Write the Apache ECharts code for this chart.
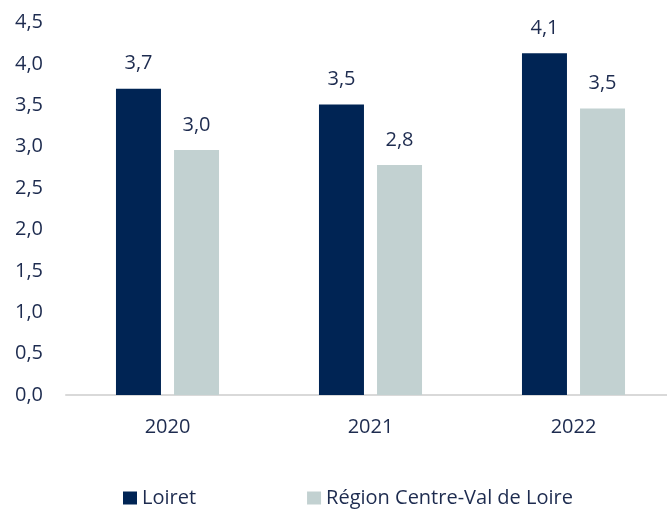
<!DOCTYPE html>
<html><head><meta charset="utf-8">
<script src="https://cdn.jsdelivr.net/npm/echarts@6/dist/echarts.min.js"></script>
<style>html,body{margin:0;padding:0;background:#fff;overflow:hidden;width:667px;height:509px}#c{width:675px;height:509px}</style>
</head><body><div id="c"></div>
<script>
const categories = ['2020', '2021', '2022'];
const loiret = [3.70, 3.51, 4.13];
const region = [2.96, 2.78, 3.46];
const seriesNames = ['Loiret', 'Région Centre-Val de Loire'];
const yTicks = { min: 0, max: 4.5, interval: 0.5 };

const txt = '#1d2b4f';
const font = '"Open Sans", sans-serif';
const fmt = v => v.toFixed(1).replace('.', ',');

const chart = echarts.init(document.getElementById('c'), null, { renderer: 'canvas' });
chart.setOption({
  animation: false,
  textStyle: { fontFamily: font },
  grid: { left: 66, right: 0, top: 22.5, bottom: 114, containLabel: false },
  legend: {
    left: 123, top: 488, padding: 0, itemWidth: 14, itemHeight: 13, itemGap: 111,
    icon: 'rect',
    textStyle: { color: txt, fontSize: 20, fontFamily: font, padding: [0, 0, 0, 0] },
    data: seriesNames
  },
  xAxis: {
    type: 'category', data: categories,
    axisLine: { lineStyle: { color: '#d9d9d9', width: 2 } },
    axisTick: { show: false },
    axisLabel: { color: txt, fontSize: 20, margin: 22, fontFamily: font }
  },
  yAxis: {
    type: 'value', min: yTicks.min, max: yTicks.max, interval: yTicks.interval,
    splitLine: { show: false },
    axisLine: { show: false }, axisTick: { show: false },
    axisLabel: { color: txt, fontSize: 20, margin: 23, fontFamily: font, formatter: fmt }
  },
  series: [
    {
      name: seriesNames[0], type: 'bar', data: loiret, barWidth: 45, barGap: '29%',
      itemStyle: { color: '#002454' },
      label: { show: true, position: 'top', distance: 15, color: txt, fontSize: 20, fontFamily: font, formatter: p => fmt(p.value) }
    },
    {
      name: seriesNames[1], type: 'bar', data: region, barWidth: 45,
      itemStyle: { color: '#c2d1d1' },
      label: { show: true, position: 'top', distance: 15, color: txt, fontSize: 20, fontFamily: font, formatter: p => fmt(p.value) }
    }
  ]
});
</script></body></html>
